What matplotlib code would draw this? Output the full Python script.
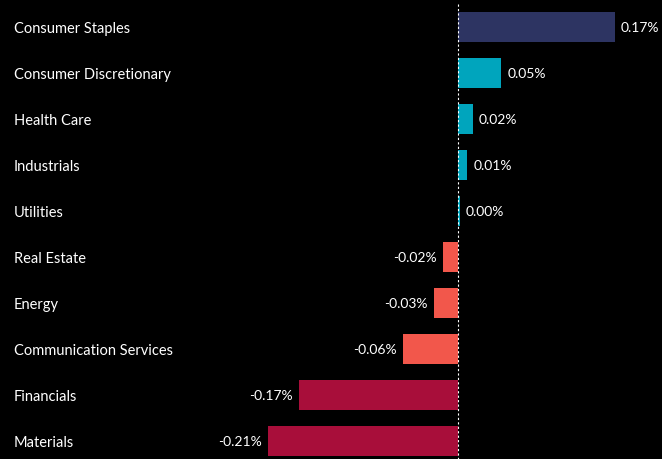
import matplotlib
matplotlib.use("Agg")
import matplotlib.pyplot as plt
import matplotlib.transforms as mtransforms

plt.rcParams["font.family"] = ["Lato", "DejaVu Sans"]

# sector contributions (percentage points)
sectors = ["Consumer Staples", "Consumer Discretionary", "Health Care", "Industrials",
           "Utilities", "Real Estate", "Energy", "Communication Services",
           "Financials", "Materials"]
values = [0.17, 0.047, 0.016, 0.01, 0.002, -0.016, -0.026, -0.06, -0.172, -0.206]
colors = ["#2d3462", "#00a5bd", "#00a5bd", "#00a5bd", "#00a5bd",
          "#f2574b", "#f2574b", "#f2574b", "#a80e3a", "#a80e3a"]

W, H = 662, 459
fig = plt.figure(figsize=(W / 100, H / 100), dpi=100, facecolor="black")
ax = fig.add_axes([0, 0, 1, 1])
ax.set_facecolor("black")

px = 924.0  # pixels per 1%
zero = 458
ax.set_xlim(-zero / px, (W - zero) / px)
ax.set_ylim((H - 27) / 46, -27 / 46)

ypos = list(range(len(sectors)))
ax.barh(ypos, values, height=30 / 46, color=colors)

# dotted zero line
ax.plot([0, 0], [-0.5, (H - 27) / 46], color="white", lw=0.8, ls=(0, (2, 2)))

trans = mtransforms.blended_transform_factory(ax.transAxes, ax.transData)
for y, name, v in zip(ypos, sectors, values):
    ax.text(14 / W, y + 0.05, name, transform=trans, color="white", fontsize=10.5,
            va="center", ha="left")
    lab = f"{v:.2f}%"
    if v >= 0:
        ax.text(v + 6 / px, y + 0.03, lab, color="white", fontsize=10, va="center", ha="left")
    else:
        ax.text(v - 6 / px, y + 0.03, lab, color="white", fontsize=10, va="center", ha="right")

ax.axis("off")
fig.savefig("out.png", dpi=100, facecolor="black")
